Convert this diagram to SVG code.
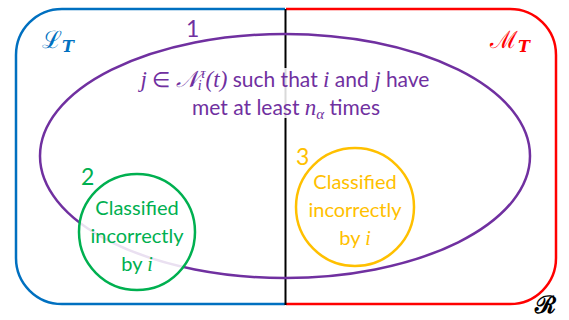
<svg xmlns="http://www.w3.org/2000/svg" width="569" height="320" viewBox="0 0 569 320">
<style>
.t{font-family:Lato,"Open Sans","Liberation Sans",sans-serif;}
.m{font-family:"Liberation Serif","DejaVu Serif",serif;font-style:italic;}
.num{font-family:Lato,"Open Sans","Liberation Sans",sans-serif;font-size:23px;}
.lbl{font-family:Lato,"Open Sans","Liberation Sans",sans-serif;font-size:20px;text-anchor:middle;}
</style>
<rect width="569" height="320" fill="#ffffff"/>
<g id="setL">
<path d="M285,304 H62 A46,46 0 0 1 16,258 V55 A46,46 0 0 1 62,9 H285" fill="none" stroke="#0070C0" stroke-width="2.5"/>
<text x="42" y="48" font-family="DejaVu Serif,serif" font-size="24" fill="#0070C0">ℒ<tspan dy="4" font-size="16" font-weight="bold" font-style="italic">T</tspan></text>
</g>
<g id="setM">
<path d="M286,9 H510 A46,46 0 0 1 556,55 V258 A46,46 0 0 1 510,304 H286" fill="none" stroke="#FF0000" stroke-width="2.5"/>
<text x="490" y="48" font-family="DejaVu Serif,serif" font-size="24" fill="#FF0000">ℳ<tspan dy="4" font-size="16" font-weight="bold" font-style="italic">T</tspan></text>
</g>
<g id="divider">
<line x1="285.5" y1="9" x2="285.5" y2="305" stroke="#000000" stroke-width="2"/>
</g>
<g id="setR">
<text x="535" y="313" font-family="DejaVu Serif,serif" font-size="24" font-weight="bold" fill="#000000">ℛ</text>
</g>
<g id="set1">
<ellipse cx="285" cy="156" rx="245" ry="122" fill="none" stroke="#7030A0" stroke-width="2.5"/>
<text class="num" x="186" y="37" fill="#7030A0">1</text>
<rect x="120" y="68" width="330" height="50" fill="#ffffff" opacity="0.85"/>
<text class="t" x="285" y="87" font-size="21" text-anchor="middle" fill="#7030A0"><tspan class="m" font-size="23">j</tspan> ∈ <tspan class="m" font-size="23">𝒩</tspan><tspan class="m" dy="3" font-size="14">i</tspan><tspan class="m" dx="-1" dy="-12" font-size="14">τ</tspan><tspan class="m" dy="9" font-size="23">(t)</tspan> such that <tspan class="m" font-size="23">i</tspan> and <tspan class="m" font-size="23">j</tspan> have</text>
<text class="t" x="286" y="115" font-size="21" text-anchor="middle" fill="#7030A0">met at least <tspan class="m" font-size="23">n</tspan><tspan class="m" dy="4" font-size="15">α</tspan><tspan dy="-4"> times</tspan></text>
</g>
<g id="set2">
<circle cx="137" cy="232" r="58" fill="#ffffff" fill-opacity="0.85" stroke="#00B050" stroke-width="2.5"/>
<text class="num" x="81" y="185" fill="#00B050">2</text>
<text class="lbl" x="137" y="215" fill="#00B050">Classified</text>
<text class="lbl" x="137" y="243" fill="#00B050">incorrectly</text>
<text class="lbl" x="137" y="271" fill="#00B050">by <tspan class="m">i</tspan></text>
</g>
<g id="set3">
<circle cx="355" cy="207" r="59" fill="none" stroke="#FFC000" stroke-width="2.5"/>
<text class="num" x="296" y="165" fill="#FFC000">3</text>
<text class="lbl" x="355" y="189" fill="#FFC000">Classified</text>
<text class="lbl" x="355" y="217" fill="#FFC000">incorrectly</text>
<text class="lbl" x="355" y="245" fill="#FFC000">by <tspan class="m">i</tspan></text>
</g>
</svg>
